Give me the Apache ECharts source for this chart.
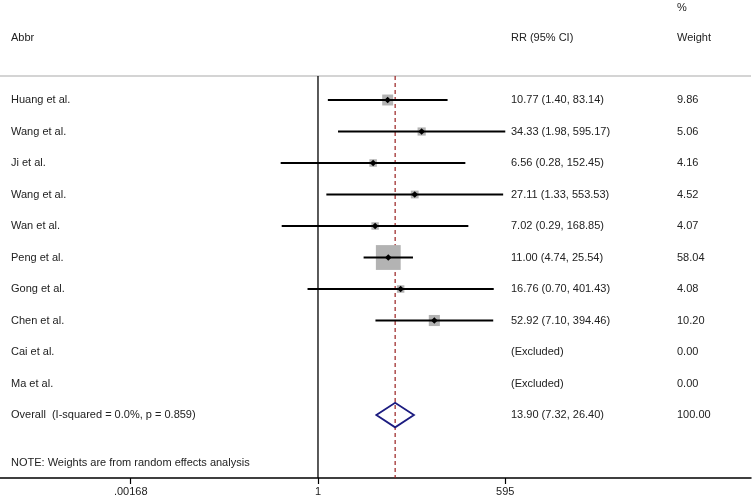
<!DOCTYPE html>
<html><head><meta charset="utf-8">
<script src="https://cdn.jsdelivr.net/npm/echarts@6/dist/echarts.min.js"></script>
<style>html,body{margin:0;padding:0;background:#fff}#c{width:754px;height:501px}</style>
</head><body><div id="c"></div>
<script>
var studies = ['Huang et al.','Wang et al.','Ji et al.','Wang et al.','Wan et al.','Peng et al.','Gong et al.','Chen et al.','Cai et al.','Ma et al.'];
var rr      = [10.77, 34.33, 6.56, 27.11, 7.02, 11.00, 16.76, 52.92, null, null];
var ciLow   = [1.40, 1.98, 0.28, 1.33, 0.29, 4.74, 0.70, 7.10, null, null];
var ciHigh  = [83.14, 595.17, 152.45, 553.53, 168.85, 25.54, 401.43, 394.46, null, null];
var weights = [9.86, 5.06, 4.16, 4.52, 4.07, 58.04, 4.08, 10.20, 0.00, 0.00];
var overallLabel = 'Overall  (I-squared = 0.0%, p = 0.859)';
var overallRR = 13.90, overallLow = 7.32, overallHigh = 26.40, overallWeight = 100.00;
var tickValues = [0.00168, 1, 595];
var tickLabels = ['.00168', '1', '595'];
var noteText = 'NOTE: Weights are from random effects analysis';

var L = Math.log10;
var FONT = 'Liberation Sans, Arial, sans-serif';
var TXT = '#222';
var XMIN = -4.711, XMAX = 6.415;
var YTOP = -0.762, YBOT = 12;

function ciText(i){
  if (rr[i] == null) return '(Excluded)';
  return rr[i].toFixed(2) + ' (' + ciLow[i].toFixed(2) + ', ' + ciHigh[i].toFixed(2) + ')';
}

var studyData = [];
for (var i = 0; i < studies.length; i++) {
  if (rr[i] != null) studyData.push([L(rr[i]), i, L(ciLow[i]), L(ciHigh[i]), weights[i]]);
}
var rowsText = [];
for (var j = 0; j < studies.length; j++) rowsText.push([0, j, studies[j], ciText(j), weights[j].toFixed(2)]);
rowsText.push([0, studies.length, overallLabel,
  overallRR.toFixed(2) + ' (' + overallLow.toFixed(2) + ', ' + overallHigh.toFixed(2) + ')',
  overallWeight.toFixed(2)]);

function txt(x, y, s){
  return {type:'text', x:x, y:y, style:{text:s, fill:TXT, font:'11px ' + FONT, textVerticalAlign:'middle', textAlign:'left'}};
}

var chart = echarts.init(document.getElementById('c'), null, {renderer:'canvas'});
chart.setOption({
  animation:false,
  grid:{left:0, right:3, top:0, bottom:23},
  xAxis:{type:'value', min:XMIN, max:XMAX,
    axisLine:{show:true, onZero:false, lineStyle:{color:'#000', width:1.5}},
    axisTick:{show:true, length:6, lineStyle:{color:'#000', width:1.2}, customValues:tickValues.map(L)},
    axisLabel:{show:true, margin:8, fontFamily:FONT, fontSize:11, color:TXT, customValues:tickValues.map(L),
      formatter:function(v){ for (var k=0;k<tickValues.length;k++){ if (Math.abs(L(tickValues[k])-v)<1e-6) return tickLabels[k]; } return ''; }},
    splitLine:{show:false}},
  yAxis:{type:'value', inverse:true, min:-3.175, max:YBOT, show:false},
  series:[
    {type:'custom', data:[[0, 0]], clip:false, silent:true, z:1,
     renderItem:function(params, api){
       var a = api.coord([XMIN, YTOP]), b = api.coord([XMAX, YTOP]);
       var v1 = api.coord([0, YTOP]), v2 = api.coord([0, YBOT]);
       var d1 = api.coord([L(overallRR), YTOP]), d2 = api.coord([L(overallRR), YBOT]);
       return {type:'group', children:[
         {type:'line', shape:{x1:a[0], y1:a[1], x2:b[0], y2:b[1]}, style:{stroke:'#aaaaaa', lineWidth:1.2}},
         {type:'line', shape:{x1:v1[0], y1:v1[1], x2:v2[0], y2:v2[1]}, style:{stroke:'#000', lineWidth:1.3}},
         {type:'line', shape:{x1:d1[0], y1:d1[1], x2:d2[0], y2:d2[1]}, style:{stroke:'#9a2020', lineWidth:1.2, lineDash:[4,3]}}
       ]};
     }},
    {type:'custom', data:studyData, clip:false, silent:true, z:3,
     renderItem:function(params, api){
       var c = api.coord([api.value(0), api.value(1)]);
       var lo = api.coord([api.value(2), api.value(1)]);
       var hi = api.coord([api.value(3), api.value(1)]);
       var s = 3.1*Math.sqrt(api.value(4)) + 1.2;
       var m = 3.3;
       return {type:'group', children:[
         {type:'rect', shape:{x:c[0]-s/2, y:c[1]-s/2, width:s, height:s}, style:{fill:'#b3b3b3'}, z2:1},
         {type:'line', shape:{x1:lo[0], y1:lo[1], x2:hi[0], y2:hi[1]}, style:{stroke:'#000', lineWidth:2}, z2:2},
         {type:'polygon', shape:{points:[[c[0]-m,c[1]],[c[0],c[1]-m],[c[0]+m,c[1]],[c[0],c[1]+m]]}, style:{fill:'#000'}, z2:3}
       ]};
     }},
    {type:'custom', data:[[L(overallRR), studies.length, L(overallLow), L(overallHigh)]], clip:false, silent:true, z:4,
     renderItem:function(params, api){
       var c = api.coord([api.value(0), api.value(1)]);
       var lo = api.coord([api.value(2), api.value(1)]);
       var hi = api.coord([api.value(3), api.value(1)]);
       var h = 12.3;
       return {type:'polygon', shape:{points:[[lo[0],c[1]],[c[0],c[1]-h],[hi[0],c[1]],[c[0],c[1]+h]]},
         style:{fill:'none', stroke:'#1c1c80', lineWidth:1.8}};
     }},
    {type:'custom', data:rowsText, clip:false, silent:true, z:5,
     renderItem:function(params, api){
       var y = api.coord([0, api.value(1)])[1];
       var d = rowsText[params.dataIndex];
       return {type:'group', children:[ txt(11, y, d[2]), txt(511, y, d[3]), txt(677, y, d[4]) ]};
     }}
  ],
  graphic:[
    txt(677, 8, '%'),
    txt(11, 38, 'Abbr'),
    txt(511, 38, 'RR (95% CI)'),
    txt(677, 38, 'Weight'),
    txt(11, 463, noteText)
  ]
});
</script></body></html>
